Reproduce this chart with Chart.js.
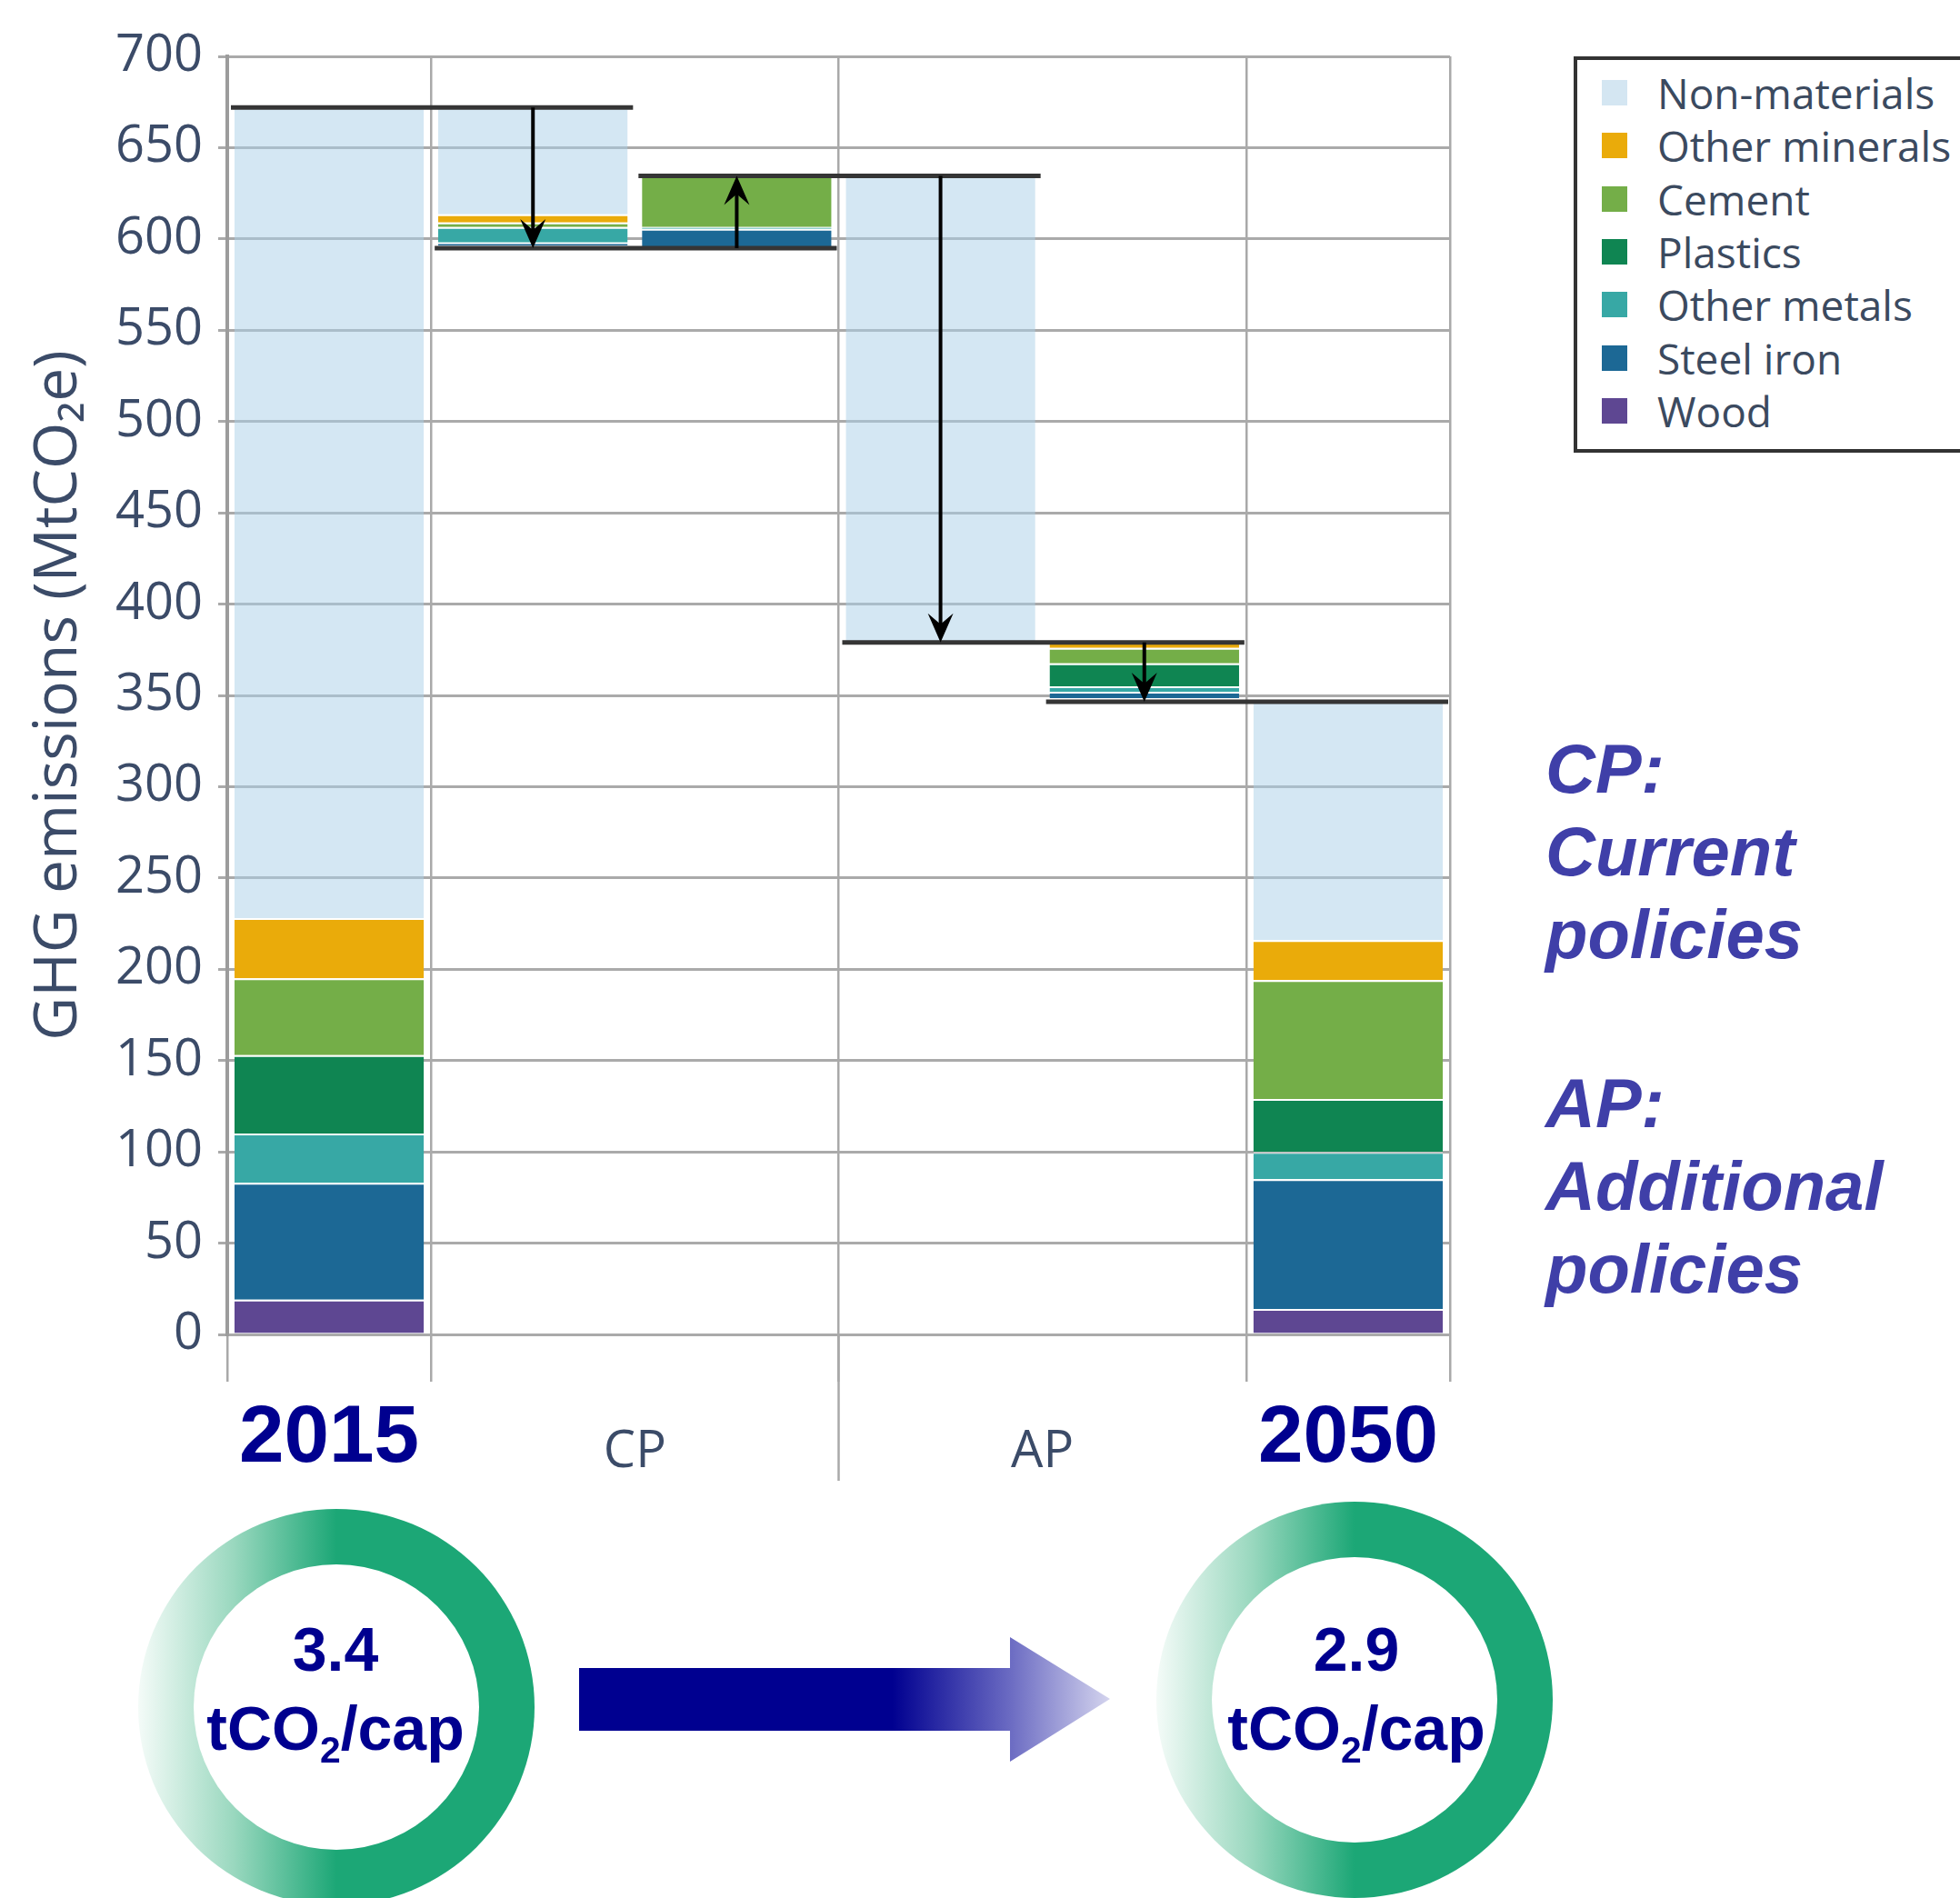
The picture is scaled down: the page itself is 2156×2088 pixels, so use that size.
<!DOCTYPE html>
<html>
<head>
<meta charset="utf-8">
<script src="https://cdn.jsdelivr.net/npm/chart.js@4.4.1/dist/chart.umd.min.js"></script>
<style>
  html, body { margin: 0; padding: 0; background: #fff; }
  body { width: 2156px; height: 2088px; position: relative; overflow: hidden; }
  #wrap { position: absolute; left: 0; top: 0; width: 2156px; height: 2088px; }
  .legend { position: absolute; left: 1731px; top: 62px; width: 520px; height: 436px; box-sizing: border-box;
            border: 4px solid #333; background: #fff; font-family: 'Open Sans'; font-size: 46px; color: #3b4a5f; }
  .legend .row { position: absolute; left: 0; height: 58px; line-height: 58px; white-space: nowrap; }
  .legend .sw { position: absolute; left: 27px; top: 15px; width: 28px; height: 28px; }
  .legend .lab { position: absolute; left: 88px; top: 0; }
  .note { position: absolute; left: 1700px; font-family: 'Liberation Sans'; font-weight: bold; font-style: italic;
          font-size: 76px; line-height: 91px; color: #3f3fa8; white-space: nowrap; }
  .ring { position: absolute; width: 436px; height: 436px; border-radius: 50%;
          background: linear-gradient(to right, #f4fbf8 0%, #9ad8bf 24%, #1ca776 50%, #1ca776 100%); }
  .ring .hole { position: absolute; left: 61px; top: 61px; width: 314px; height: 314px; border-radius: 50%; background: #fff; }
  .cap { position: absolute; width: 400px; text-align: center; font-family: 'Liberation Sans'; font-weight: bold;
         font-size: 68px; line-height: 68px; color: #00008f; white-space: nowrap; }
  .cap .s { font-size: 0.6em; position: relative; top: 0.35em; }
  .arrow { position: absolute; left: 637px; top: 1801px; width: 584px; height: 137px;
           clip-path: polygon(0 34px, 474px 34px, 474px 0, 584px 68px, 474px 137px, 474px 103px, 0 103px);
           background: linear-gradient(to right, #000090 0%, #000090 59%, #6a6ac2 81%, #d4d4ee 100%); }
</style>
</head>
<body>
<div id="wrap"><canvas id="c"></canvas></div>
<div class="legend" id="legend"></div>

<div class="note" style="top:800px;">CP:<br>Current<br>policies</div>
<div class="note" style="top:1168px;">AP:<br>Additional<br>policies</div>

<div class="ring" style="left:152px; top:1660px;"><div class="hole"></div></div>
<div class="ring" style="left:1272px; top:1652px;"><div class="hole"></div></div>
<div class="arrow"></div>
<div class="cap" style="left:169px; top:1780px;">3.4</div>
<div class="cap" style="left:169px; top:1867px;">tCO<span class="s">2</span>/cap</div>
<div class="cap" style="left:1292px; top:1780px;">2.9</div>
<div class="cap" style="left:1292px; top:1867px;">tCO<span class="s">2</span>/cap</div>

<script>
// columns of the waterfall: 2015, CP cut, CP rise, AP non-materials cut, AP materials cut, 2050
const columns = ['2015', 'CP cut', 'CP rise', 'AP cut 1', 'AP cut 2', '2050'];
const steps = ['total', 'down', 'up', 'down', 'down', 'total'];

// MtCO2e per material, bottom to top of each bar
const materials = ['Wood', 'Steel iron', 'Other metals', 'Plastics', 'Cement', 'Other minerals', 'Non-materials'];
const wood          = [19,  1.5, 0,    0,     2,    14];
const steelIron     = [64,  1.5, 10.5, 0,     3.5,  71];
const otherMetals   = [27,  8.5, 1,    0,     3,    15];
const plastics      = [43,  0,   0,    0,     12.5, 29];
const cement        = [42,  2.5, 28,   0,     8.5,  65];
const otherMinerals = [33,  4.5, 0,    0,     3,    22];
const nonMaterials  = [444, 58.5, 0,   255.5, 0,    130.5];

const colors = ['#5e4792', '#1c6895', '#37a8a5', '#0f8552', '#74ae48', '#eaab0a', '#d4e6f2'];
const xLabels = {0.5: '2015', 2: 'CP', 4: 'AP', 5.5: '2050'};
const xGridAt = [0, 1, 3, 5, 6];

const series = [wood, steelIron, otherMetals, plastics, cement, otherMinerals, nonMaterials];

// floating base for each column + running level after it
const base = [], levels = [];
let level = 0;
columns.forEach(function(c, i) {
  const sum = series.reduce(function(s, a) { return s + a[i]; }, 0);
  if (steps[i] == 'total') { base.push(0); level = sum; }
  else if (steps[i] == 'down') { level = level - sum; base.push(level); }
  else { base.push(level); level = level + sum; }
  levels.push(level);
});

// html legend, top row = last series
const legend = document.getElementById('legend');
for (let k = materials.length - 1, r = 0; k >= 0; k--, r++) {
  const row = document.createElement('div');
  row.className = 'row';
  row.style.top = (7 + r * 58.3) + 'px';
  row.innerHTML = '<span class="sw" style="background:' + colors[k] + '"></span><span class="lab">' + materials[k] + '</span>';
  legend.appendChild(row);
}

const datasets = [{label: 'base', data: base, backgroundColor: 'rgba(0,0,0,0)', borderWidth: 0}];
series.forEach(function(arr, k) {
  datasets.push({
    label: materials[k],
    data: arr,
    backgroundColor: materials[k] == 'Non-materials' ? 'rgba(170,207,232,0.5)' : colors[k],
    borderColor: 'rgba(255,255,255,0.45)',
    borderWidth: {top: 2, left: 0, right: 0, bottom: 0},
    borderSkipped: false
  });
});

const slate = '#3b4b68';

const marks = {
  id: 'marks',
  beforeDatasetsDraw: function(chart) {
    const c = chart.ctx, xg = chart.scales.xg, y = chart.scales.y;
    const xm = xg.getPixelForValue(3);
    c.save();
    c.strokeStyle = '#a9a9a9'; c.lineWidth = 2.5;
    c.beginPath(); c.moveTo(xm, y.bottom); c.lineTo(xm, y.bottom + 161); c.stroke();
    c.restore();
  },
  afterDatasetsDraw: function(chart) {
    const c = chart.ctx, xg = chart.scales.xg, y = chart.scales.y;
    c.save();
    // connectors between neighbouring bars
    c.strokeStyle = '#353535'; c.lineWidth = 5;
    for (let i = 1; i < columns.length; i++) {
      const yy = y.getPixelForValue(levels[i - 1]);
      c.beginPath();
      c.moveTo(xg.getPixelForValue(i - 1) + 4, yy);
      c.lineTo(xg.getPixelForValue(i + 1) - 2, yy);
      c.stroke();
    }
    // change arrows
    c.strokeStyle = '#000'; c.fillStyle = '#000'; c.lineWidth = 4;
    for (let i = 1; i < columns.length; i++) {
      if (steps[i] == 'total') continue;
      const cx = xg.getPixelForValue(i + 0.5);
      const y0 = y.getPixelForValue(levels[i - 1]), y1 = y.getPixelForValue(levels[i]);
      const dir = y1 > y0 ? 1 : -1;
      c.beginPath(); c.moveTo(cx, y0); c.lineTo(cx, y1 - dir * 8); c.stroke();
      c.beginPath();
      c.moveTo(cx, y1);
      c.lineTo(cx - 14, y1 - dir * 32);
      c.lineTo(cx, y1 - dir * 20);
      c.lineTo(cx + 14, y1 - dir * 32);
      c.closePath(); c.fill();
    }
    c.restore();
  }
};

new Chart(document.getElementById('c'), {
  type: 'bar',
  data: {labels: columns, datasets: datasets},
  options: {
    responsive: true,
    maintainAspectRatio: false,
    animation: false,
    devicePixelRatio: 1,
    layout: {padding: {left: 0, top: 62, right: 561, bottom: 0}},
    datasets: {bar: {barPercentage: 0.93, categoryPercentage: 1}},
    plugins: {legend: {display: false}, tooltip: {enabled: false}},
    scales: {
      x: {stacked: true, display: false},
      xg: {
        type: 'linear', position: 'bottom', min: 0, max: 6, offset: false,
        afterBuildTicks: function(scale) {
          scale.ticks = [0, 0.5, 1, 2, 3, 4, 5, 5.5, 6].map(function(v) { return {value: v}; });
        },
        afterFit: function(scale) { scale.height = 620; },
        border: {display: false},
        grid: {
          offset: false,
          color: function(ctx) { return ctx.tick && xGridAt.indexOf(ctx.tick.value) >= 0 ? '#a9a9a9' : 'rgba(0,0,0,0)'; },
          lineWidth: 2.5, tickLength: 52
        },
        ticks: {
          autoSkip: false, maxRotation: 0, padding: 44,
          callback: function(v) { return xLabels[v] || ''; },
          color: function(ctx) { return ctx.tick && (ctx.tick.value == 0.5 || ctx.tick.value == 5.5) ? '#00008f' : slate; },
          font: function(ctx) {
            if (ctx.tick && (ctx.tick.value == 0.5 || ctx.tick.value == 5.5))
              return {family: 'Liberation Sans', size: 89, weight: 'bold', lineHeight: 0.44};
            return {family: 'Open Sans', size: 56, lineHeight: 1.2};
          }
        }
      },
      y: {
        stacked: true, min: 0, max: 700,
        afterFit: function(scale) { scale.width = 250; },
        border: {display: true, color: '#9c9c9c', width: 4},
        grid: {color: '#aaaaaa', lineWidth: 3, tickLength: 10},
        ticks: {stepSize: 50, padding: 17, color: slate, font: {family: 'Open Sans', size: 56}},
        title: {
          display: true, text: 'GHG emissions (MtCO₂e)', color: slate,
          font: {family: 'Open Sans', size: 66}, padding: {top: 26, bottom: 0}
        }
      }
    }
  },
  plugins: [marks]
});
</script>
</body>
</html>
